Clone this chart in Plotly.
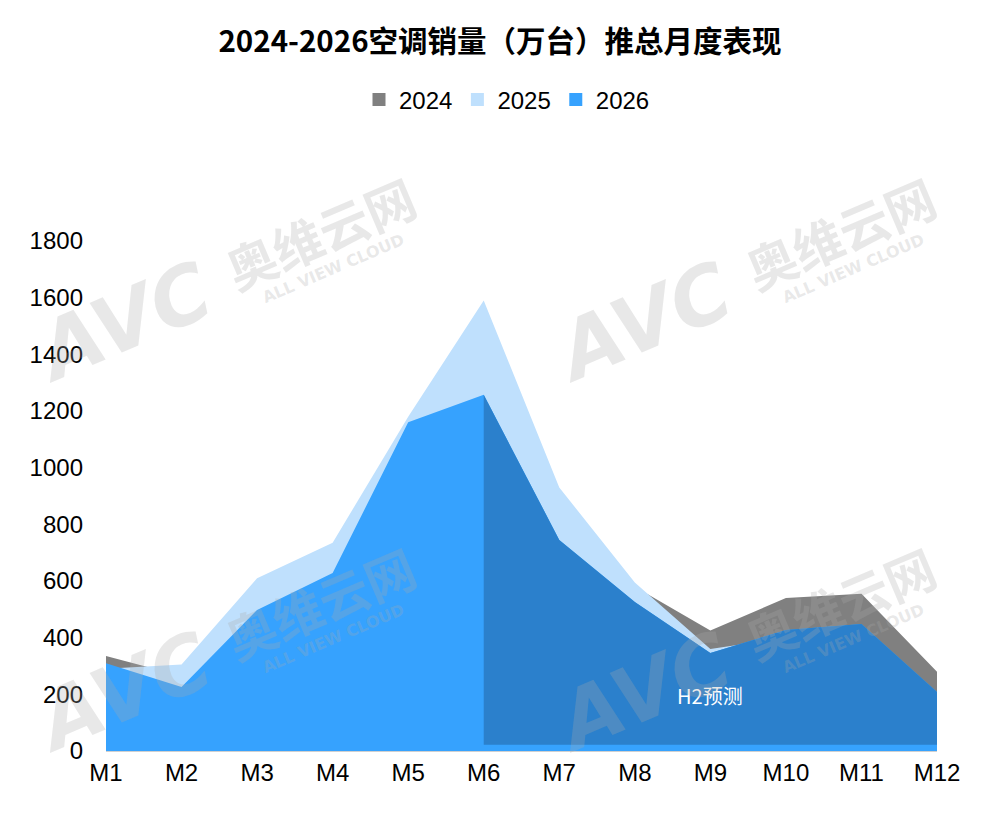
import plotly.graph_objs as go

# monthly AC sales, 10k units
months = ['M1', 'M2', 'M3', 'M4', 'M5', 'M6', 'M7', 'M8', 'M9', 'M10', 'M11', 'M12']
sales_2024 = [335, 265, 480, 600, 1100, 1200, 740, 580, 425, 540, 555, 280]
sales_2025 = [290, 305, 610, 735, 1180, 1590, 930, 595, 360, 400, 430, 200]
sales_2026 = [310, 226, 498, 628, 1160, 1257, 745, 526, 346, 427, 448, 208]

# H2 forecast part (M6-M12)
h2_months = months[5:]
h2_values = sales_2026[5:]
h2_base = 22

colors = {'2024': '#808080', '2025': '#bfe0fd', '2026': '#36a2fe'}

data = []
for name, vals in [('2024', sales_2024), ('2025', sales_2025), ('2026', sales_2026)]:
    data.append(go.Scatter(x=months, y=vals, name=name, mode='lines',
                           line=dict(width=0, color=colors[name]),
                           fill='tozeroy', fillcolor=colors[name],
                           showlegend=False))

# darker overlay for the forecast half
data.append(go.Scatter(x=h2_months, y=[h2_base] * len(h2_months), mode='lines',
                       line=dict(width=0), showlegend=False, hoverinfo='skip'))
data.append(go.Scatter(x=h2_months, y=h2_values, mode='lines',
                       line=dict(width=0), fill='tonexty', fillcolor='#2b80cc',
                       showlegend=False, hoverinfo='skip'))

# square legend markers
for name in ['2024', '2025', '2026']:
    data.append(go.Scatter(x=[None], y=[None], name=name, mode='markers',
                           marker=dict(symbol='square', size=13, color=colors[name])))

font = 'Liberation Sans, Arial, Noto Sans CJK SC'

layout = go.Layout(
    width=1000, height=832,
    paper_bgcolor='white', plot_bgcolor='white',
    margin=dict(l=106, r=63, t=241, b=81),
    font=dict(family=font, size=24, color='black'),
    title=dict(text='<b>2024-2026空调销量（万台）推总月度表现</b>',
               x=0.5, xanchor='center', y=1 - 42 / 832, yanchor='middle',
               font=dict(size=29.5, family='Noto Sans CJK SC', color='black')),
    legend=dict(orientation='h', x=(507 - 106) / 831, xanchor='center',
                y=(751 - 100) / 510, yanchor='middle', font=dict(size=24),
                traceorder='normal', itemwidth=30),
    xaxis=dict(type='category', range=[0, 11], showgrid=False, zeroline=False,
               showline=True, linecolor='#d0d0d0', linewidth=1, ticks='',
               tickfont=dict(size=24), automargin=False),
    yaxis=dict(range=[0, 1800], dtick=200, showgrid=False, zeroline=False,
               showline=False, ticks='', ticklabelstandoff=22,
               tickfont=dict(size=24), automargin=False),
    annotations=[dict(text='H2预测', x='M9', y=195, xref='x', yref='y',
                      showarrow=False, font=dict(size=20, color='white',
                                                 family='Noto Sans CJK SC'))],
)


def px(x, y):
    return (x - 106) / 831, (751 - y) / 510


# faint AVC watermarks
wm = 'rgba(170,170,170,0.27)'
for dx, dy in [(0, 0), (520, 0), (0, 370), (520, 370)]:
    for text, cx, cy, size, fam in [
        ('<b><i>AVC</i></b>', 122, 322, 80, 'DejaVu Sans'),
        ('<b>奥维云网</b>', 320, 232, 50, 'Noto Sans CJK SC'),
        ('<b>ALL VIEW CLOUD</b>', 333, 268, 16, 'DejaVu Sans'),
    ]:
        xp, yp = px(cx + dx, cy + dy)
        layout.annotations += (dict(text=text, x=xp, y=yp, xref='paper', yref='paper',
                                    xanchor='center', yanchor='middle',
                                    showarrow=False, textangle=-23,
                                    font=dict(size=size, color=wm, family=fam)),)

fig = go.Figure(data=data, layout=layout)
fig.write_html('out.html', config={'displayModeBar': False},
               post_script="document.body.style.margin='0';")
